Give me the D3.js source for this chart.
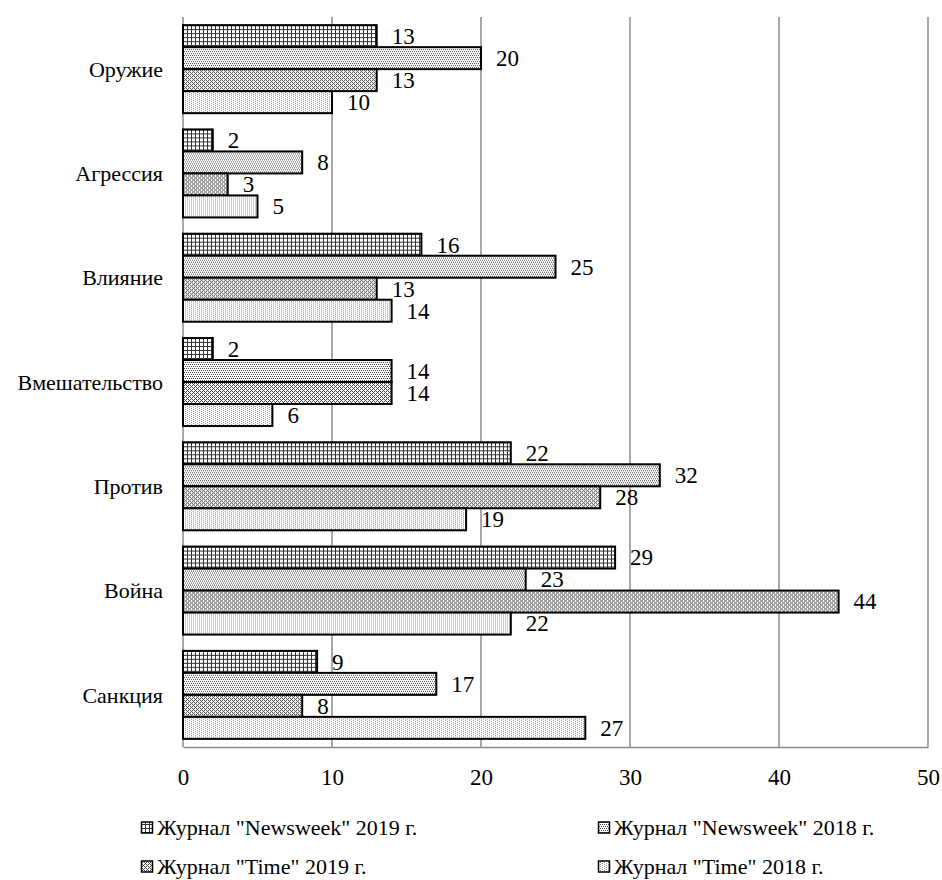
<!DOCTYPE html>
<html>
<head>
<meta charset="utf-8">
<script src="https://cdn.jsdelivr.net/npm/d3@7"></script>
</head>
<body style="margin:0; background:#fff">
<svg id="chart" width="942" height="880"></svg>
<script>
// categories from top to bottom
let categories = ['Оружие', 'Агрессия', 'Влияние', 'Вмешательство', 'Против', 'Война', 'Санкция'];
let seriesNames = ['Журнал "Newsweek" 2019 г.', 'Журнал "Newsweek" 2018 г.', 'Журнал "Time" 2019 г.', 'Журнал "Time" 2018 г.'];
let newsweek2019 = [13, 2, 16, 2, 22, 29, 9];
let newsweek2018 = [20, 8, 25, 14, 32, 23, 17];
let time2019 = [13, 3, 13, 14, 28, 44, 8];
let time2018 = [10, 5, 14, 6, 19, 22, 27];
let xTicks = [0, 10, 20, 30, 40, 50];

let seriesValues = [newsweek2019, newsweek2018, time2019, time2018];
let patternIds = ['pGrid', 'pDots', 'pDiamond', 'pFine'];
let serif = '"Liberation Serif", "Times New Roman", serif';

let svg = d3.select('#chart');
let margin = {top: 17, left: 183, right: 14, bottom: 133};
let width = 942 - margin.left - margin.right;
let height = 880 - margin.top - margin.bottom;

// patterns
let defs = svg.append('defs');
function makePattern(id, w, h, pixels, color) {
    let p = defs.append('pattern')
        .attr('id', id)
        .attr('patternUnits', 'userSpaceOnUse')
        .attr('width', w)
        .attr('height', h);
    p.append('rect').attr('width', w).attr('height', h).attr('fill', '#fff');
    pixels.forEach(function (px) {
        p.append('rect')
            .attr('x', px[0]).attr('y', px[1])
            .attr('width', px[2] || 1).attr('height', px[3] || 1)
            .attr('fill', color)
            .attr('shape-rendering', 'crispEdges');
    });
}
makePattern('pGrid', 4, 4, [[0, 0, 4, 1], [0, 0, 1, 4]], '#333');
makePattern('pDots', 4, 4, [[0, 0], [2, 0], [1, 2], [3, 2]], '#444');
makePattern('pDiamond', 4, 4, [[0, 0], [1, 1], [2, 2], [3, 3], [3, 1], [1, 3]], '#444');
makePattern('pFine', 4, 2, [[0, 0], [2, 1]], '#999');

let g = svg.append('g')
    .attr('transform', 'translate(' + margin.left + ',' + margin.top + ')');

let x = d3.scaleLinear().domain([0, 50]).range([0, width]);
let y0 = d3.scaleBand().domain(categories).range([0, height])
    .paddingInner(0.156).paddingOuter(0.078);
let y1 = d3.scaleBand().domain(d3.range(seriesNames.length)).range([0, y0.bandwidth()]);

// gridlines
g.selectAll('.grid')
    .data(xTicks)
    .enter().append('line')
    .attr('x1', function (d) { return x(d); })
    .attr('x2', function (d) { return x(d); })
    .attr('y1', 0)
    .attr('y2', height)
    .attr('stroke', '#8c8c8c')
    .attr('stroke-width', 1.5);

// x axis
let xAxis = g.append('g')
    .attr('transform', 'translate(0,' + height + ')')
    .call(d3.axisBottom(x).tickValues(xTicks).tickSize(0).tickPadding(22));
xAxis.select('.domain').attr('stroke', '#8c8c8c').attr('stroke-width', 1.5);
xAxis.selectAll('text')
    .style('font-family', serif)
    .style('font-size', '23px')
    .attr('fill', '#000');

// category labels
g.selectAll('.cat')
    .data(categories)
    .enter().append('text')
    .attr('x', -20)
    .attr('y', function (d) { return y0(d) + y0.bandwidth() / 2; })
    .attr('dy', '0.35em')
    .attr('text-anchor', 'end')
    .style('font-family', serif)
    .style('font-size', '22px')
    .text(function (d) { return d; });

// bars
let groups = g.selectAll('.group')
    .data(categories)
    .enter().append('g')
    .attr('transform', function (d) { return 'translate(0,' + y0(d) + ')'; });

groups.selectAll('rect')
    .data(function (d, i) {
        return seriesValues.map(function (vals, s) { return {s: s, v: vals[i]}; });
    })
    .enter().append('rect')
    .attr('x', x(0))
    .attr('y', function (d) { return y1(d.s); })
    .attr('width', function (d) { return x(d.v) - x(0); })
    .attr('height', y1.bandwidth())
    .attr('fill', function (d) { return 'url(#' + patternIds[d.s] + ')'; })
    .attr('stroke', '#000')
    .attr('stroke-width', 2);

groups.selectAll('.val')
    .data(function (d, i) {
        return seriesValues.map(function (vals, s) { return {s: s, v: vals[i]}; });
    })
    .enter().append('text')
    .attr('x', function (d) { return x(d.v) + 15; })
    .attr('y', function (d) { return y1(d.s) + y1.bandwidth() / 2; })
    .attr('dy', '0.34em')
    .style('font-family', serif)
    .style('font-size', '23px')
    .text(function (d) { return d.v; });

// legend
let legendPos = [[141, 828], [598, 828], [141, 867], [598, 867]];
let legend = svg.selectAll('.legend')
    .data(seriesNames)
    .enter().append('g')
    .attr('transform', function (d, i) { return 'translate(' + legendPos[i][0] + ',' + legendPos[i][1] + ')'; });
legend.append('rect')
    .attr('x', 0.5)
    .attr('y', -6)
    .attr('width', 11)
    .attr('height', 11)
    .attr('fill', function (d, i) { return 'url(#' + patternIds[i] + ')'; })
    .attr('stroke', '#000')
    .attr('stroke-width', 1.5);
legend.append('text')
    .attr('x', 16)
    .attr('dy', '0.33em')
    .style('font-family', serif)
    .style('font-size', '22px')
    .text(function (d) { return d; });
</script>
</body>
</html>
